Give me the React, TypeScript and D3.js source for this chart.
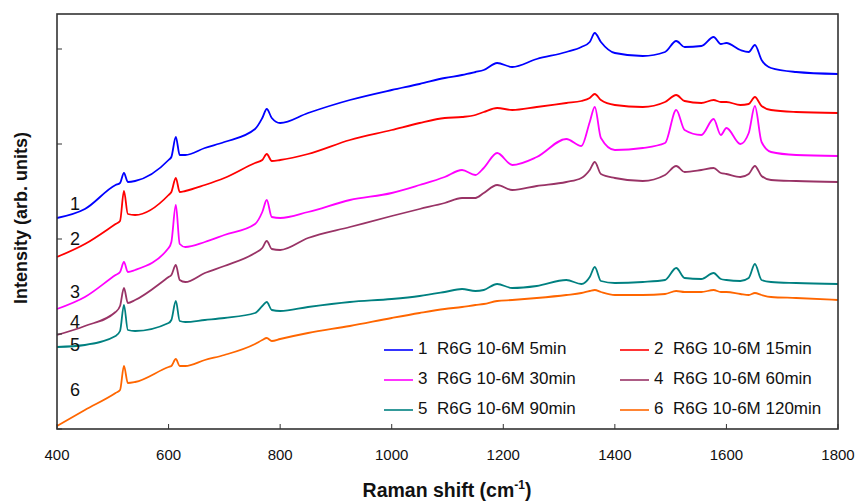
import * as d3 from "d3";
import React from "react";

// Raman shift grid (cm-1), shared by all spectra
const shifts = [400, 450, 505, 513, 520, 527, 540, 600, 605, 613, 620, 630, 665, 700, 755, 768, 776, 785, 800, 850, 925, 1000, 1050, 1095, 1126, 1150, 1165, 1189, 1216, 1260, 1313, 1340, 1355, 1364, 1375, 1400, 1450, 1490, 1510, 1525, 1555, 1577, 1590, 1600, 1625, 1640, 1651, 1663, 1680, 1725, 1800];

// intensities (arb. units)
const s5min = [211, 220, 244, 246, 256, 247, 248, 269, 272, 292, 274, 274, 281, 287, 300, 311, 320, 311, 306, 316, 329, 339, 345, 351, 354, 357, 359, 366, 362, 370, 377, 382, 387, 396, 387, 376, 373, 377, 388, 382, 383, 392, 385, 386, 379, 377, 384, 369, 361, 357, 355];
const s15min = [172, 185, 205, 208, 238, 215, 214, 234, 237, 251, 237, 238, 244, 251, 266, 269, 275, 268, 269, 275, 289, 299, 306, 311, 312, 314, 317, 321, 319, 322, 326, 328, 331, 335, 329, 324, 322, 327, 334, 328, 326, 329, 327, 327, 324, 325, 332, 323, 319, 317, 316];
const s30min = [120, 132, 154, 157, 167, 157, 159, 181, 187, 224, 185, 182, 187, 194, 205, 217, 229, 212, 211, 217, 229, 236, 244, 252, 259, 254, 261, 276, 264, 272, 290, 283, 307, 322, 291, 279, 281, 286, 319, 299, 294, 310, 294, 301, 285, 296, 323, 287, 277, 274, 273];
const s60min = [94, 103, 117, 123, 141, 126, 129, 152, 154, 164, 149, 147, 156, 163, 176, 181, 188, 180, 179, 191, 202, 213, 220, 226, 231, 231, 236, 244, 239, 243, 247, 251, 259, 267, 255, 251, 248, 254, 263, 257, 259, 261, 256, 255, 252, 255, 263, 253, 249, 248, 247];
const s90min = [82, 84, 93, 98, 124, 99, 98, 106, 109, 128, 108, 107, 109, 111, 116, 123, 127, 119, 118, 122, 127, 130, 133, 137, 140, 138, 139, 145, 141, 143, 149, 145, 152, 162, 148, 146, 147, 149, 161, 151, 150, 156, 150, 149, 148, 151, 165, 149, 147, 146, 145];
const s120min = [3, 19, 36, 39, 63, 46, 47, 62, 63, 70, 63, 63, 69, 74, 85, 89, 91, 88, 90, 96, 103, 111, 116, 120, 122, 124, 125, 128, 129, 131, 134, 136, 138, 139, 137, 134, 134, 135, 138, 137, 137, 139, 137, 137, 135, 134, 136, 134, 132, 131, 129];

const seriesNames = ["1  R6G 10-6M 5min", "2  R6G 10-6M 15min", "3  R6G 10-6M 30min", "4  R6G 10-6M 60min", "5  R6G 10-6M 90min", "6  R6G 10-6M 120min"];
const seriesColors = ["#0000ff", "#ff0000", "#ff00ff", "#993366", "#008080", "#ff6600"];
const seriesValues = [s5min, s15min, s30min, s60min, s90min, s120min];
const curveTags = ["1", "2", "3", "4", "5", "6"];
const tagValues = [224, 189, 136, 106, 83, 38];

const xTicks = [400, 600, 800, 1000, 1200, 1400, 1600, 1800];
const yTicks = [0, 95, 190, 285, 380];

const W = 857;
const H = 502;
const margin = { top: 14, right: 19, bottom: 73, left: 57 };
const font = "Arial, 'Liberation Sans', sans-serif";

export default function App() {
  React.useEffect(() => {
    document.body.style.margin = "0";
  }, []);

  const x = d3.scaleLinear().domain([400, 1800]).range([margin.left, W - margin.right]);
  const y = d3.scaleLinear().domain([0, 415]).range([H - margin.bottom, margin.top]);

  const line = d3.line<number>()
    .x((d, i) => x(shifts[i]))
    .y(d => y(d))
    .curve(d3.curveMonotoneX);

  const x0 = margin.left, x1 = W - margin.right;
  const y0 = H - margin.bottom, y1 = margin.top;

  return (
    <svg width={W} height={H} style={{ display: "block", background: "#fff" }} fontFamily={font}>
      {seriesValues.map((vals, i) => (
        <path key={i} d={line(vals) || ""} fill="none" stroke={seriesColors[i]} strokeWidth={1.8} strokeLinejoin="round" />
      ))}

      {/* curve numbers */}
      {curveTags.map((t, i) => (
        <text key={t} x={75} y={y(tagValues[i])} fontSize={18} textAnchor="middle" dominantBaseline="middle" fill="#111">{t}</text>
      ))}

      {/* frame */}
      <rect x={x0} y={y1} width={x1 - x0} height={y0 - y1} fill="none" stroke="#333" strokeWidth={1.6} />

      {/* x ticks inward */}
      {xTicks.map(t => (
        <g key={t}>
          <line x1={x(t)} x2={x(t)} y1={y0} y2={y0 - 5} stroke="#333" strokeWidth={1} />
          <text x={x(t)} y={460} fontSize={15} textAnchor="middle" fill="#111">{t}</text>
        </g>
      ))}
      {/* y ticks inward, no labels */}
      {yTicks.map(t => (
        <line key={t} x1={x0} x2={x0 + 5} y1={y(t)} y2={y(t)} stroke="#333" strokeWidth={1} />
      ))}

      <text x={447} y={497} fontSize={19.5} fontWeight="bold" textAnchor="middle" fill="#111">
        Raman shift (cm<tspan dy={-8} fontSize={12}>-1</tspan><tspan dy={8}>)</tspan>
      </text>
      <text transform={`translate(22,${218}) rotate(-90)`} fontSize={18} fontWeight="bold" textAnchor="middle" dominantBaseline="middle" fill="#111">
        Intensity (arb. units)
      </text>

      {/* legend */}
      {seriesNames.map((n, i) => {
        const col = i % 2;
        const row = Math.floor(i / 2);
        const lx = col === 0 ? 384 : 620;
        const ly = 350 + row * 30;
        return (
          <g key={n}>
            <line x1={lx} x2={lx + 29} y1={ly} y2={ly} stroke={seriesColors[i]} strokeWidth={1.6} />
            <text x={lx + 34} y={ly} fontSize={17} dominantBaseline="middle" fill="#111" style={{ whiteSpace: "pre" }}>{n}</text>
          </g>
        );
      })}
    </svg>
  );
}
